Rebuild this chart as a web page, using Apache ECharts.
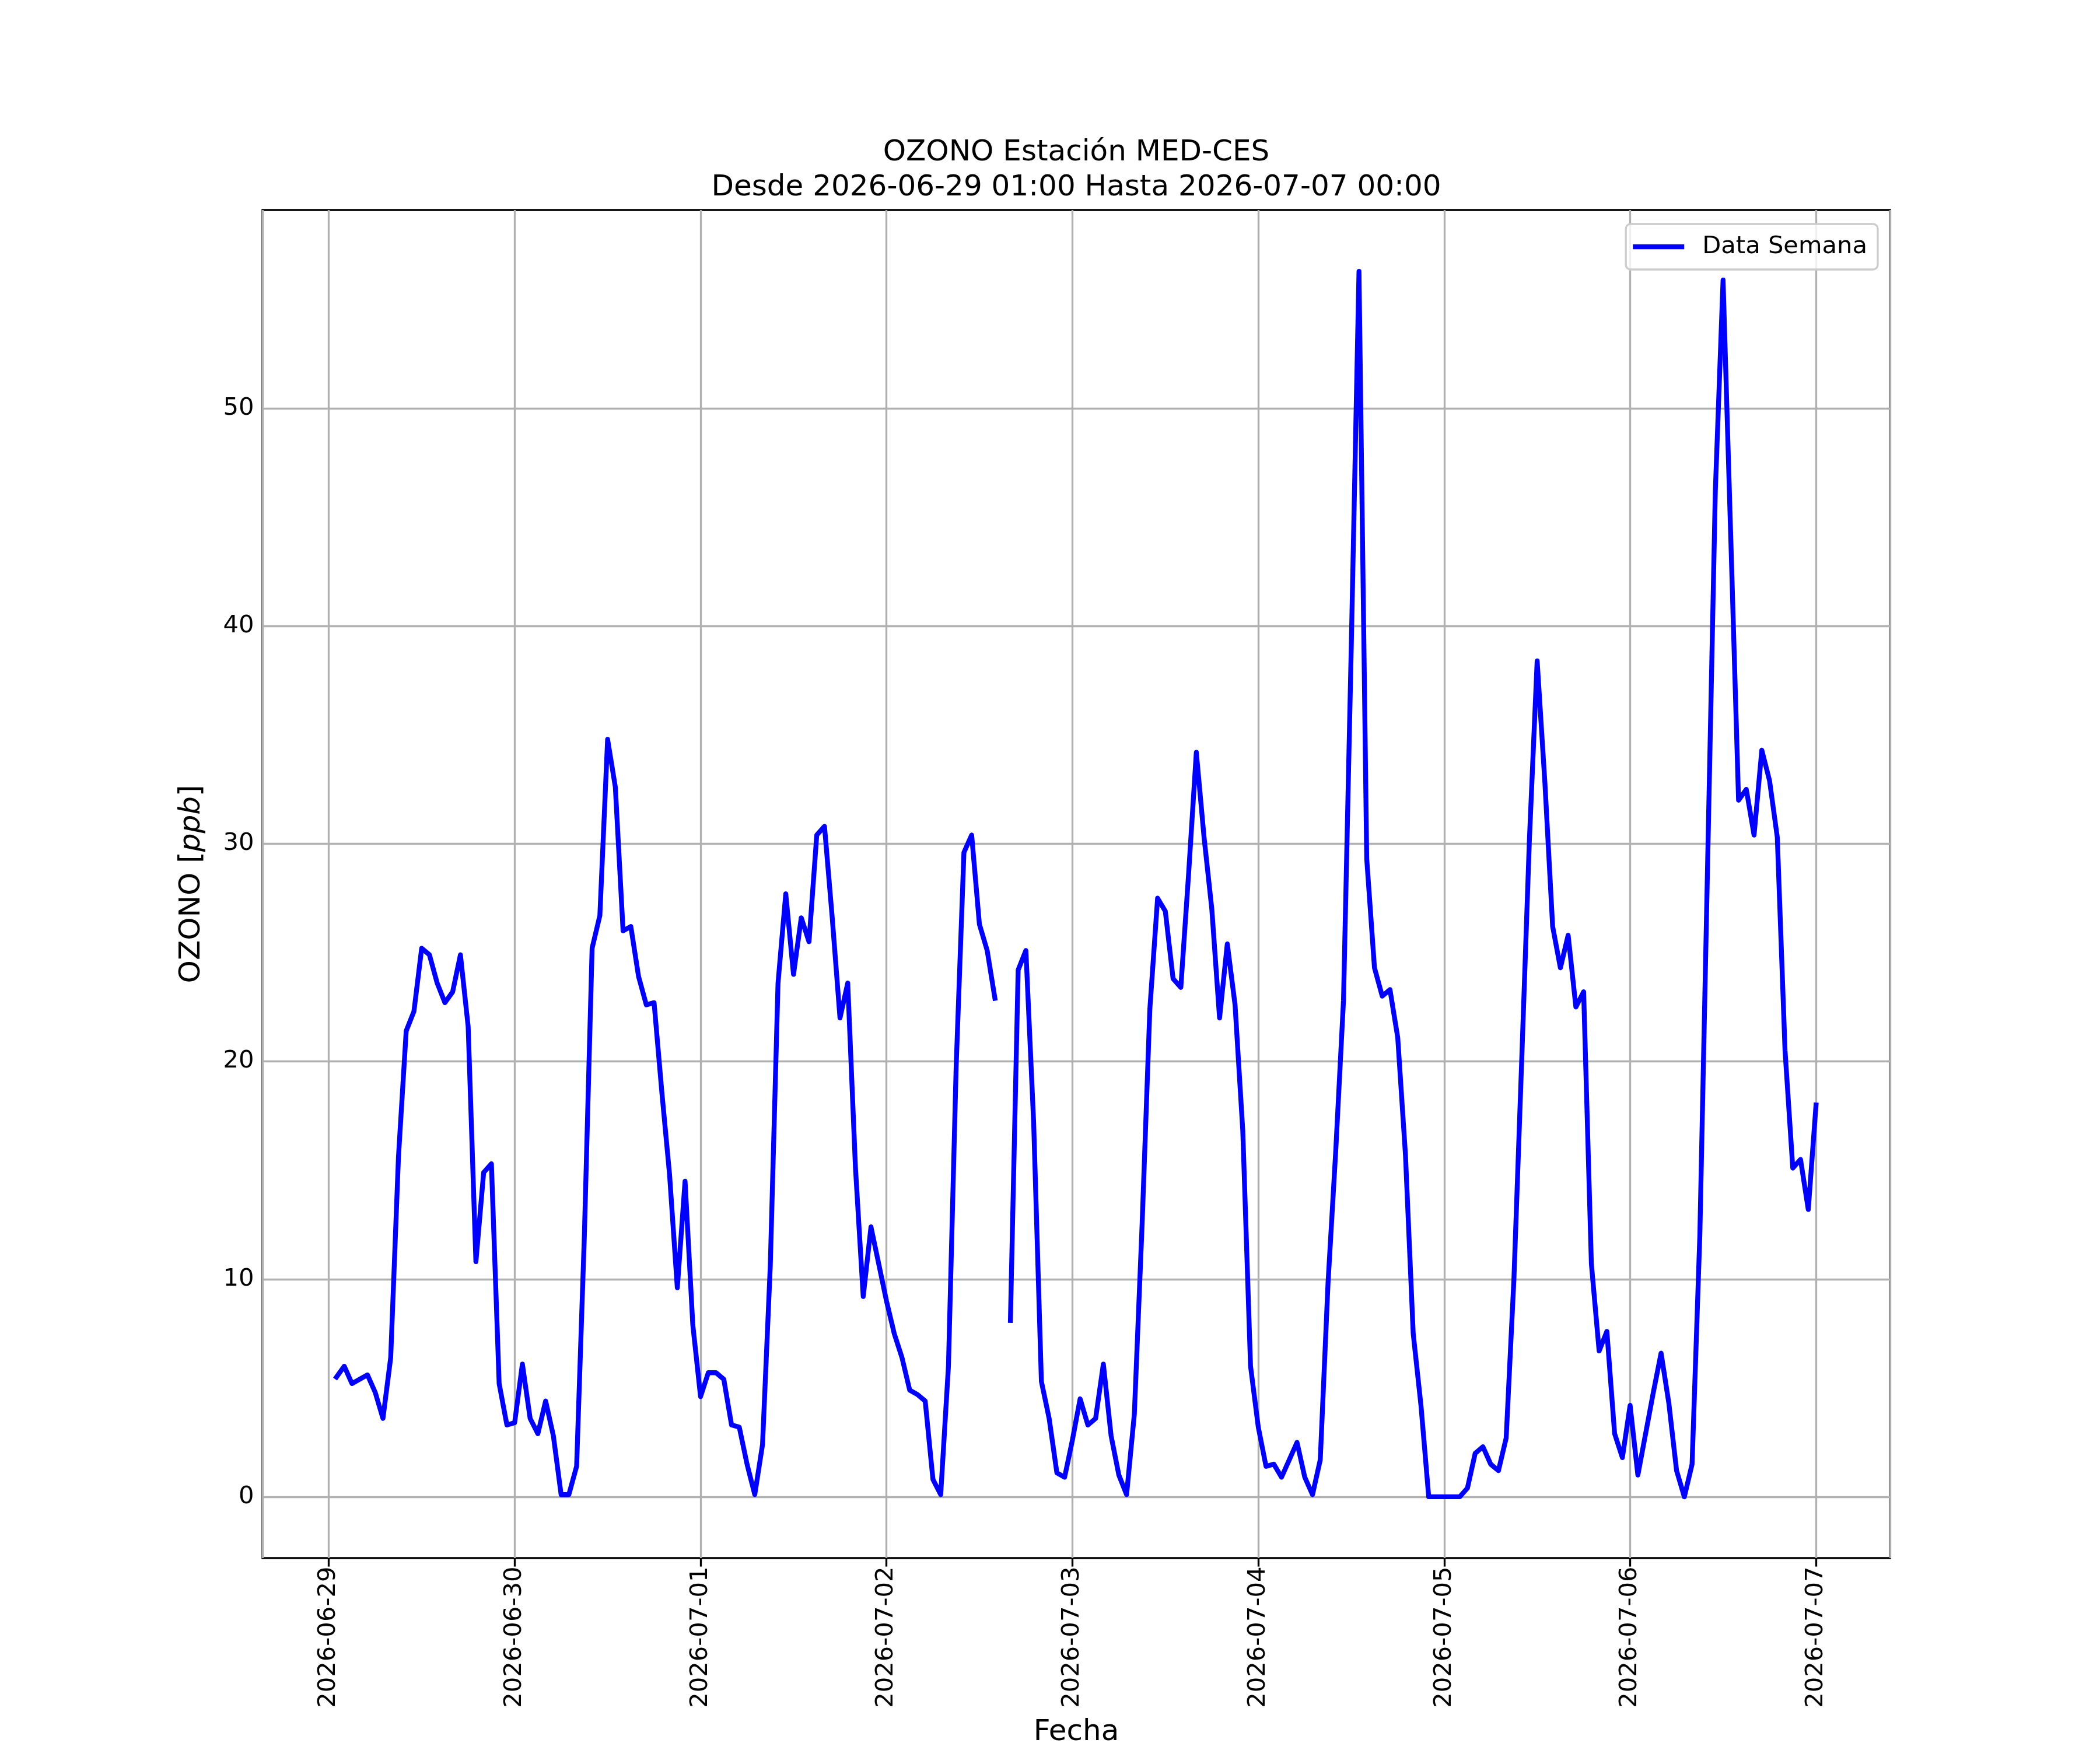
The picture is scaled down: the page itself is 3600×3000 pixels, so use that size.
<!DOCTYPE html>
<html>
<head>
<meta charset="utf-8">
<script src="https://cdn.jsdelivr.net/npm/echarts@6/dist/echarts.min.js"></script>
<style>
  html, body { margin: 0; padding: 0; background: #ffffff; }
  #chart { width: 3600px; height: 3000px; }
</style>
</head>
<body>
<div id="chart"></div>
<script>
const FONT = "DejaVu Sans";
const PT = 300 / 72;

const TITLE = ["OZONO Estación MED-CES", "Desde 2026-06-29 01:00 Hasta 2026-07-07 00:00"];
const SERIES_NAME = "Data Semana";
const START = "2026-06-29T01:00:00Z";

const dayTicks = ["2026-06-29", "2026-06-30", "2026-07-01", "2026-07-02", "2026-07-03",
  "2026-07-04", "2026-07-05", "2026-07-06", "2026-07-07"];
const yTicks = [0, 10, 20, 30, 40, 50];

// hourly values, 06-29 01:00 .. 07-07 00:00 (null = missing hour)
const ozone = [
  5.5, 6.0, 5.2, 5.4, 5.6, 4.8, 3.6, 6.4, 15.6, 21.4, 22.3, 25.2, 24.9, 23.6, 22.7, 23.2, 24.9, 21.6, 10.8, 14.9, 15.3, 5.2, 3.3,
  3.4, 6.1, 3.6, 2.9, 4.4, 2.8, 0.1, 0.1, 1.4, 12.0, 25.2, 26.7, 34.8, 32.6, 26.0, 26.2, 23.9, 22.6, 22.7, 18.6, 14.8, 9.6, 14.5, 7.9,
  4.6, 5.7, 5.7, 5.4, 3.3, 3.2, 1.5, 0.1, 2.4, 10.6, 23.6, 27.7, 24.0, 26.6, 25.5, 30.4, 30.8, 26.6, 22.0, 23.6, 15.1, 9.2, 12.4, 10.7,
  9.0, 7.5, 6.4, 4.9, 4.7, 4.4, 0.8, 0.1, 6.0, 19.8, 29.6, 30.4, 26.3, 25.1, 22.9, null, 8.1, 24.2, 25.1, 17.2, 5.3, 3.6, 1.1, 0.9,
  2.6, 4.5, 3.3, 3.6, 6.1, 2.8, 1.0, 0.1, 3.8, 12.5, 22.4, 27.5, 26.9, 23.8, 23.4, 28.6, 34.2, 30.3, 27.0, 22.0, 25.4, 22.6, 16.8, 6.0,
  3.2, 1.4, 1.5, 0.9, 1.7, 2.5, 0.9, 0.1, 1.7, 9.8, 15.9, 22.8, 39.0, 56.3, 29.3, 24.3, 23.0, 23.3, 21.1, 15.7, 7.5, 4.2, 0.0, 0.0,
  0.0, 0.0, 0.0, 0.4, 2.0, 2.3, 1.5, 1.2, 2.7, 10.0, 20.0, 30.2, 38.4, 32.8, 26.2, 24.3, 25.8, 22.5, 23.2, 10.7, 6.7, 7.6, 2.9, 1.8,
  4.2, 1.0, 2.9, 4.8, 6.6, 4.3, 1.2, 0.0, 1.5, 12.0, 29.0, 46.2, 55.9, 44.0, 32.0, 32.5, 30.4, 34.3, 32.9, 30.3, 20.5, 15.1, 15.5, 13.2,
  18.0
];

const HOUR = 3600 * 1000;
const t0 = Date.parse(START);
const times = ozone.map((_, i) => t0 + i * HOUR);
const tickLabels = new Set(dayTicks);

// matplotlib-like 5% margins
const tPad = 0.05 * (times[times.length - 1] - times[0]);
const vals = ozone.filter((v) => v !== null);
const vMin = Math.min(...vals), vMax = Math.max(...vals);
const vPad = 0.05 * (vMax - vMin);

const pad2 = (n) => String(n).padStart(2, "0");
const fmtDay = (v) => {
  const d = new Date(v);
  return `${d.getUTCFullYear()}-${pad2(d.getUTCMonth() + 1)}-${pad2(d.getUTCDate())}`;
};

const chart = echarts.init(document.getElementById("chart"), null, { renderer: "canvas", width: 3600, height: 3000 });

const tickStyle = { length: 3.5 * PT, lineStyle: { color: "#000000", width: 0.8 * PT } };
const labelStyle = { color: "#000000", fontFamily: FONT, fontSize: 10 * PT, margin: 3.5 * PT };

chart.setOption({
  useUTC: true,
  animation: false,
  backgroundColor: "#ffffff",
  textStyle: { fontFamily: FONT },
  grid: {
    left: 450, right: 360, top: 360, bottom: 300,
    show: true, borderColor: "#000000", borderWidth: 0.8 * PT, backgroundColor: "transparent"
  },
  graphic: [{
    type: "text",
    x: 1845,
    y: 352,
    style: {
      text: TITLE.join("\n"),
      font: `${12 * PT}px "${FONT}"`,
      fill: "#000000",
      align: "center",
      verticalAlign: "bottom",
      lineHeight: 60
    }
  }],
  legend: {
    right: 381,
    top: 384,
    icon: "rect",
    itemWidth: 88,
    itemHeight: 2 * PT,
    selectedMode: false,
    padding: [18, 18, 18, 12],
    backgroundColor: "rgba(255,255,255,0.8)",
    borderColor: "#cccccc",
    borderWidth: 0.8 * PT,
    borderRadius: 8,
    textStyle: { color: "#000000", fontFamily: FONT, fontSize: 10 * PT, padding: [0, 0, 0, 26] },
    data: [SERIES_NAME]
  },
  xAxis: {
    type: "time",
    min: times[0] - tPad,
    max: times[times.length - 1] + tPad,
    minInterval: 24 * HOUR,
    maxInterval: 24 * HOUR,
    name: "Fecha",
    nameLocation: "middle",
    nameGap: 274,
    nameTextStyle: { color: "#000000", fontFamily: FONT, fontSize: 12 * PT },
    axisLine: { show: false, onZero: false },
    axisTick: tickStyle,
    axisLabel: Object.assign({
      rotate: 90,
      showMinLabel: false,
      showMaxLabel: false,
      hideOverlap: false,
      formatter: (v) => (tickLabels.has(fmtDay(v)) ? fmtDay(v) : "")
    }, labelStyle),
    splitLine: { show: true, lineStyle: { color: "#b0b0b0", width: 0.8 * PT } }
  },
  yAxis: {
    type: "value",
    min: vMin - vPad,
    max: vMax + vPad,
    name: "{n|OZONO [}{i|ppb}{n|]}",
    nameLocation: "middle",
    nameGap: 96,
    nameTextStyle: {
      color: "#000000",
      fontFamily: FONT,
      fontSize: 12 * PT,
      rich: {
        n: { fontFamily: FONT, fontSize: 12 * PT, color: "#000000" },
        i: { fontFamily: FONT, fontSize: 12 * PT, fontStyle: "italic", color: "#000000" }
      }
    },
    axisLine: { show: false, onZero: false },
    axisTick: Object.assign({ customValues: yTicks }, tickStyle),
    axisLabel: Object.assign({ customValues: yTicks }, labelStyle),
    splitLine: { show: true, lineStyle: { color: "#b0b0b0", width: 0.8 * PT } }
  },
  series: [{
    name: SERIES_NAME,
    type: "line",
    data: times.map((t, i) => [t, ozone[i]]),
    showSymbol: false,
    connectNulls: false,
    color: "#0000ff",
    lineStyle: { color: "#0000ff", width: 2 * PT, join: "round", cap: "square" },
    emphasis: { disabled: true }
  }]
});
</script>
</body>
</html>
